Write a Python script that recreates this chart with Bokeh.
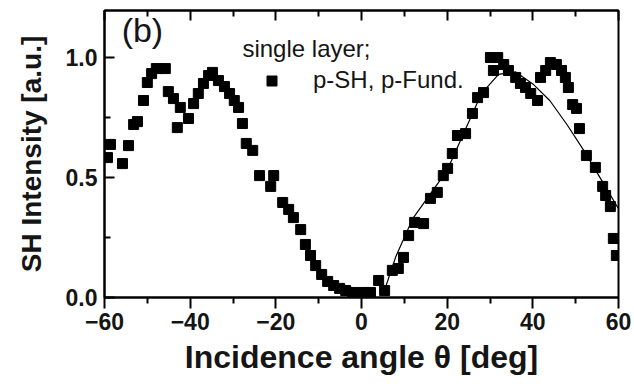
from bokeh.plotting import figure
from bokeh.models import (Range1d, LinearAxis, FixedTicker, Label, Legend, LegendItem,
                          PrintfTickFormatter)
from bokeh.embed import file_html
from bokeh.resources import INLINE

# ---- data ----
angle = [-59.3, -58.6, -55.8, -54.4, -53.2, -52.3, -50.9, -50.0, -49.0, -47.9,
         -45.8, -45.1, -43.9, -42.3, -43.0, -40.4, -39.2, -38.1, -36.9, -35.7,
         -34.8, -33.4, -32.0, -30.8, -29.7, -28.7, -27.8, -26.9, -25.4, -23.8,
         -20.5, -21.2, -18.4, -17.0, -15.9, -14.2, -13.1, -11.9, -10.7, -9.3,
         -7.9, -6.5, -5.1, -3.7, -2.1, 0.2, 2.1, 4.0, 5.4, 7.2,
         8.6, 9.8, 11.0, 12.4, 14.5, 16.1, 17.7, 19.1, 20.1, 21.2,
         22.4, 24.3, 25.9, 27.1, 28.5, 30.1, 31.8, 30.8, 33.2, 34.3,
         36.0, 37.1, 38.3, 39.5, 41.1, 41.8, 43.0, 44.1, 45.5, 46.7,
         47.6, 48.3, 49.3, 50.2, 50.9, 52.5, 54.6, 56.3, 57.0, 58.1,
         58.8, 59.5]
intensity = [0.583, 0.638, 0.558, 0.633, 0.721, 0.733, 0.821, 0.896, 0.933, 0.954,
             0.954, 0.858, 0.829, 0.792, 0.708, 0.746, 0.808, 0.850, 0.892, 0.925,
             0.938, 0.904, 0.879, 0.850, 0.821, 0.792, 0.725, 0.642, 0.613, 0.508,
             0.508, 0.463, 0.396, 0.367, 0.333, 0.283, 0.221, 0.175, 0.133, 0.096,
             0.067, 0.050, 0.038, 0.029, 0.021, 0.021, 0.021, 0.071, 0.029, 0.113,
             0.121, 0.167, 0.258, 0.313, 0.308, 0.413, 0.438, 0.508, 0.538, 0.600,
             0.675, 0.683, 0.767, 0.833, 0.854, 1.000, 1.000, 0.946, 0.971, 0.946,
             0.917, 0.892, 0.875, 0.850, 0.821, 0.917, 0.946, 0.979, 0.971, 0.946,
             0.917, 0.875, 0.804, 0.788, 0.704, 0.592, 0.542, 0.463, 0.425, 0.379,
             0.246, 0.175]

fit_angle = [5, 8, 12, 16, 20, 24, 28, 32, 36, 40, 44, 48, 52, 56, 60]
fit_intensity = [0.01, 0.17, 0.33, 0.43, 0.53, 0.69, 0.85, 0.93, 0.94, 0.89,
                 0.82, 0.72, 0.61, 0.49, 0.37]

x_ticks = [-60, -40, -20, 0, 20, 40, 60]
x_minor = [-50, -30, -10, 10, 30, 50]
y_ticks = [0.0, 0.5, 1.0]
y_minor = [0.25, 0.75]

FONT = "Liberation Sans"
INK = "#151515"

p = figure(width=634, height=384, output_backend="svg", toolbar_location=None,
           x_range=Range1d(-60, 60), y_range=Range1d(0, 1.196),
           min_border_left=104, min_border_right=16, min_border_top=10,
           min_border_bottom=87, background_fill_color="white",
           border_fill_color="white")
p.grid.visible = False
p.outline_line_color = "black"
p.outline_line_width = 2

xa = p.xaxis[0]
xa.ticker = FixedTicker(ticks=x_ticks, minor_ticks=x_minor)
xa.axis_label = "Incidence angle \u03b8 [deg]"
ya = p.yaxis[0]
ya.ticker = FixedTicker(ticks=y_ticks, minor_ticks=y_minor)
ya.formatter = PrintfTickFormatter(format="%.1f")
ya.axis_label = "SH Intensity [a.u.]"

for ax in (xa, ya):
    ax.axis_line_width = 2
    ax.axis_line_color = "black"
    ax.major_tick_line_width = 2
    ax.minor_tick_line_width = 2
    ax.major_label_text_font = FONT
    ax.major_label_text_font_style = "bold"
    ax.major_label_text_font_size = "23px"
    ax.major_label_text_color = INK
    ax.axis_label_text_font = FONT
    ax.axis_label_text_font_style = "bold"
    ax.axis_label_text_color = INK

xa.major_tick_in = 0
xa.major_tick_out = 11
xa.minor_tick_in = 0
xa.minor_tick_out = 6
xa.major_label_standoff = 4
xa.axis_label_text_font_size = "32px"
xa.axis_label_standoff = 6

ya.major_tick_in = 10
ya.major_tick_out = 0
ya.minor_tick_in = 6
ya.minor_tick_out = 0
ya.major_label_standoff = 7
ya.axis_label_text_font_size = "28px"
ya.axis_label_standoff = 16

top = LinearAxis(ticker=FixedTicker(ticks=x_ticks, minor_ticks=x_minor),
                 major_label_text_font_size="0px", major_label_text_color=None,
                 major_tick_in=10, major_tick_out=0,
                 minor_tick_in=6, minor_tick_out=0, axis_line_width=2,
                 major_tick_line_width=2, minor_tick_line_width=2,
                 major_label_standoff=0)
p.add_layout(top, "above")

p.line(fit_angle, fit_intensity, line_color="black", line_width=1.2)
sc = p.scatter(angle, intensity, marker="square", size=10, fill_color="black",
               line_color="black")

leg = Legend(items=[LegendItem(label="p-SH, p-Fund.", renderers=[sc])],
             location=(155, 203), padding=0, margin=0, glyph_width=25,
             glyph_height=25, label_standoff=29, border_line_color=None,
             background_fill_alpha=0, label_text_font=FONT,
             label_text_font_size="24px", label_text_color=INK)
p.add_layout(leg, "center")

p.add_layout(Label(x=-27.8, y=0.98, text="single layer;", text_font=FONT,
                   text_font_size="24px", text_color=INK))
p.add_layout(Label(x=-56.0, y=1.035, text="(b)", text_font=FONT,
                   text_font_size="34px", text_color=INK))

open("out.html", "w").write(file_html(p, INLINE))
